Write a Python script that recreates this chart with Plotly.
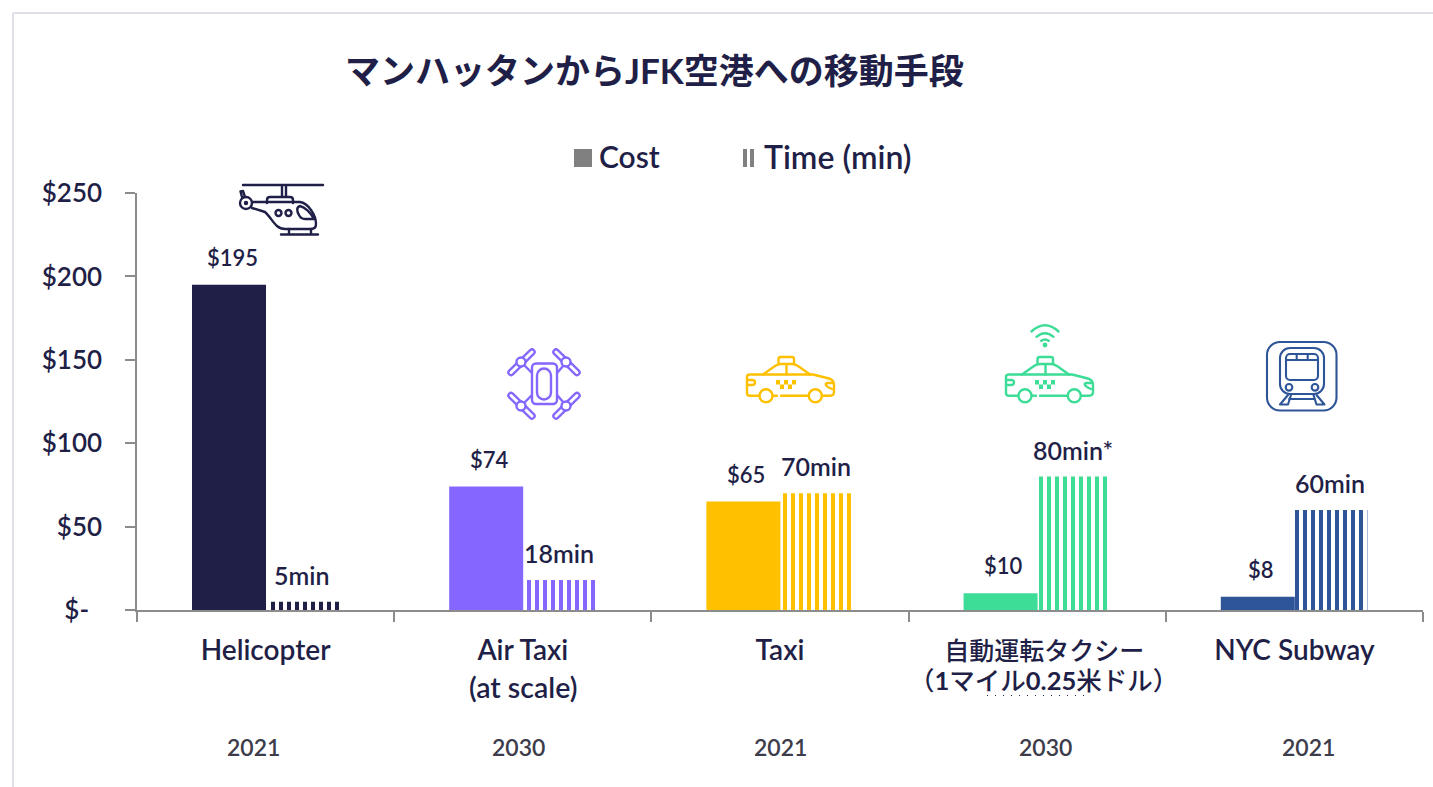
import base64
import plotly.graph_objects as go

categories = ["Helicopter", "Air Taxi", "Taxi", "自動運転タクシー", "NYC Subway"]
cost = [195, 74, 65, 10, 8]
time_min = [5, 18, 70, 80, 60]
cost_labels = ["$195", "$74", "$65", "$10", "$8"]
time_labels = ["5min", "18min", "70min", "80min*", "60min"]
years = ["2021", "2030", "2021", "2030", "2021"]
year_px = [253, 518, 780, 1045, 1308]
colors = ["#1f1f47", "#8566ff", "#ffc000", "#3ddc97", "#2e5597"]
y_ticks = [0, 50, 100, 150, 200, 250]
y_ticktext = ["$-\u00a0\u00a0", "$50", "$100", "$150", "$200", "$250"]
x_ticktext = ["Helicopter", "Air Taxi", "Taxi",
              '\u00a0\u00a0<span style="font-size:25px;font-weight:500">自動運転タクシー</span>',
              "NYC Subway"]
time_nudge_px = [4.4, 3.2, 2, 1, 0]
time_width_px = [70, 70, 70, 70, 73]

NAVY = "#1f1f47"
FONT = "Lato, 'Noto Sans CJK JP', sans-serif"
L, R, T, B = 137, 1423, 193, 610
PHASE = 4  # pixels that line the stripe pattern up with the reference


def px(x):
    return (x - L) / (R - L)


def py(y):
    return (B - y) / (B - T)


def car(c, dx=0):
    checks = "".join(
        f'<rect x="{x + dx}" y="{y}" width="4" height="4.5" fill="{c}" stroke="none"/>'
        for x, y in [(776, 380), (784, 380), (792, 380), (780, 384.5), (788, 384.5)]
    )
    return f'''<g transform="translate({dx},0)">
<path d="M758.5 395.7H750Q747 395.7 747 393V377Q747 374.5 750 374.5H813L829 378.5Q834 380 834 385V392Q834 395.7 830 395.7H823M807.5 395.7H781M773 395.7H777"/>
<path d="M763 374.5L775 366Q778 364 781 364H792Q795 364 798 366L810 374.5M778.5 364V359Q778.5 357 781 357H792Q794 357 794 359V364M786.5 364V374.5"/>
<path d="M747 380H752Q755 380 755 382.5T752 385H747M832 383H828Q825 383 826 385T832 389"/>
<circle cx="766" cy="395.7" r="6.5"/><circle cx="815.3" cy="395.7" r="6.5"/></g>''' + checks


helicopter = f'''<path d="M243 185H323M282 185V197M286 185V197M267 203V200Q267 197 270 197H290Q293 197 293 200V203"/>
<circle cx="246" cy="203" r="6"/><circle cx="246" cy="203" r="1" fill="{NAVY}"/>
<path d="M245 197L243 191L240.5 191.5L242 197M252 202H300C308 203 316 215 316 224Q316 229 311 229H285C275 229 272 218 265 212L252 208"/>
<circle cx="278.5" cy="213" r="3"/><circle cx="288.5" cy="213" r="3"/>
<path d="M300 206C296 207 297 212 299 215Q301 219 305 219H315M300 206C305 207 311 213 314 219"/>
<path d="M281 234.5H318M289 229V234.5M311 229V234.5"/>'''

props = ""
for (x1, y1, x2, y2) in [(511, 372.5, 532, 352), (556, 352, 577, 372.5),
                         (511, 395.5, 532, 416), (556, 416, 577, 395.5)]:
    props += f'<path d="M{x1} {y1}L{x2} {y2}" stroke-width="7.5"/>'
    props += f'<path d="M{x1} {y1}L{x2} {y2}" stroke="#fff" stroke-width="3"/>'
hubs = "".join(
    f'<circle cx="{x}" cy="{y}" r="4.5" fill="#fff"/>' for x, y in [(521, 362), (566, 362), (521, 406), (566, 406)]
)
drone = f'''<path d="M524 365L532 373M564 365L557 373M524 403L532 395M564 403L557 395"/>{props}{hubs}
<rect x="532" y="363.5" width="25" height="40.5" rx="4" fill="#fff"/><rect x="537" y="368.5" width="14" height="31" rx="7"/>'''

wifi = '''<path d="M1031.5 331.5Q1045 319 1058.5 331.5M1036.5 336.8Q1045 329.5 1053.5 336.8M1041.3 340.8Q1045 338 1048.7 340.8"/>
<circle cx="1045" cy="345" r="1.2"/>'''

train = '''<rect x="1267" y="342" width="69.5" height="68.5" rx="13"/>
<rect x="1280" y="348" width="44" height="46" rx="10"/>
<rect x="1286" y="354" width="32" height="26" rx="4"/>
<path d="M1286 360H1318M1296.7 354V360M1307.7 354V360"/>
<circle cx="1289" cy="387.3" r="3.3"/><circle cx="1315" cy="387.3" r="3.3"/>
<path d="M1288 395L1280 404.5H1288L1291 395M1316.5 395L1324.5 404.5H1316.5L1313.5 395M1289 399H1315"/>'''


def icon(body, color, x0, y0, w, h, sw=2.4):
    svg = (f'<svg xmlns="http://www.w3.org/2000/svg" width="{w * 3}" height="{h * 3}" viewBox="{x0} {y0} {w} {h}">'
           f'<g fill="none" stroke="{color}" stroke-width="{sw}" stroke-linecap="round" stroke-linejoin="round">'
           f'{body}</g></svg>')
    uri = "data:image/svg+xml;base64," + base64.b64encode(svg.encode()).decode()
    return dict(source=uri, xref="paper", yref="paper", x=px(x0), y=py(y0), sizex=w / (R - L), sizey=h / (B - T),
                xanchor="left", yanchor="top", sizing="stretch", layer="above")


images = [
    icon(helicopter, NAVY, 235, 180, 95, 60),
    icon(drone, colors[1], 500, 340, 90, 90),
    icon(car(colors[2]), colors[2], 740, 350, 100, 55),
    icon(wifi + car(colors[3], 259), colors[3], 995, 320, 105, 85),
    icon(train, colors[4], 1260, 335, 85, 85, 2.1),
]

CW = (R - L) / len(categories)

fig = go.Figure()
fig.add_bar(name="Cost", x=categories, y=cost, marker_color=colors, marker_line_width=0,
            width=74 / CW, offset=-73.6 / CW, showlegend=False)
fig.add_bar(name="Time (min)", x=categories, y=time_min, xaxis="x2", marker=dict(
    color=colors, line_width=0,
    pattern=dict(shape="|", size=8, solidity=0.5, fillmode="replace")),
    width=[w / CW for w in time_width_px], offset=[n / CW for n in time_nudge_px], showlegend=False)

ann = []


def text(x, y, s, size=24, color=NAVY, weight=600, **kw):
    ann.append(dict(x=x, y=y, text=s, showarrow=False, font=dict(family=FONT, size=size, color=color, weight=weight),
                    xanchor=kw.pop("xanchor", "center"), yanchor="middle", **kw))


for c, v, s in zip(categories, cost, cost_labels):
    text(c, v, s, size=22, xref="x", yref="y", xshift=-33.6, yshift=27.5)
for c, v, s in zip(categories, time_min, time_labels):
    text(c, v, s, size=25, xref="x", yref="y", xshift=36, yshift=27)
for xp, s in zip(year_px, years):
    text(px(xp), py(747), s, size=23, color="#3c3c4a", xref="paper", yref="paper")
text(categories[1], py(687), "(at scale)", size=28.5, xref="x", yref="paper")
text(categories[3], py(680), "（<b>1</b>マイル<b>0.25</b>米ドル）", size=25.5, weight=500, xref="x", yref="paper", xshift=6)
text(px(597), py(156), "Cost", size=30, xanchor="left", xref="paper", yref="paper")
text(px(762), py(156), "Time (min)", size=32, xanchor="left", xref="paper", yref="paper")

GREY = "#808080"
shapes = [
    dict(type="rect", xref="paper", yref="paper", x0=px(574), x1=px(592), y0=py(167), y1=py(149),
         fillcolor=GREY, line_width=0),
    dict(type="rect", xref="paper", yref="paper", x0=px(743), x1=px(747), y0=py(167), y1=py(149),
         fillcolor=GREY, line_width=0),
    dict(type="rect", xref="paper", yref="paper", x0=px(750), x1=px(754), y0=py(167), y1=py(149),
         fillcolor=GREY, line_width=0),
    dict(type="line", xref="paper", yref="paper", x0=px(13), x1=px(1433), y0=py(13), y1=py(13),
         line=dict(color="#dde0e6", width=2)),
    dict(type="line", xref="paper", yref="paper", x0=px(13), x1=px(13), y0=py(13), y1=py(787),
         line=dict(color="#dde0e6", width=2)),
    dict(type="line", xref="paper", yref="paper", x0=px(987), x1=px(1088), y0=py(695.5), y1=py(695.5),
         line=dict(color=NAVY, width=1, dash="1px,7px")),
]

fig.update_layout(
    width=1433, height=787, autosize=False,
    margin=dict(l=L, r=1433 - R, t=T, b=787 - B, pad=0),
    paper_bgcolor="white", plot_bgcolor="rgba(0,0,0,0)",
    barmode="overlay", showlegend=False,
    font=dict(family=FONT, color=NAVY, size=24),
    title=dict(text="<b>マンハッタンからJFK空港への移動手段</b>", x=345 / 1433, xref="container", xanchor="left",
               y=1 - 72 / 787, yref="container", yanchor="middle", font=dict(family=FONT, size=35, color=NAVY)),
    xaxis=dict(type="category", categoryorder="array", categoryarray=categories, tickmode="array",
               tickvals=categories, ticktext=x_ticktext, range=[-0.5, 4.5],
               tickson="boundaries", ticks="outside", ticklen=10, tickwidth=1.5, tickcolor="#8c8c8c",
               showline=True, linecolor="#8c8c8c", linewidth=1.5, showgrid=False, zeroline=False,
               tickfont=dict(family=FONT, size=28, color=NAVY, weight=600), ticklabelstandoff=15, tickangle=0),
    xaxis2=dict(type="category", categoryorder="array", categoryarray=categories, visible=False, anchor="y",
                domain=[PHASE / (R - L), 1], range=[-0.5 + PHASE / CW, 4.5]),
    yaxis=dict(range=[0, 250], tickvals=y_ticks, ticktext=y_ticktext, ticks="outside", ticklen=10, tickwidth=1.5,
               tickcolor="#8c8c8c", showline=True, linecolor="#8c8c8c", linewidth=1.5, showgrid=False, zeroline=False,
               tickfont=dict(family=FONT, size=26, color=NAVY, weight=600), ticklabelstandoff=18),
    annotations=ann, shapes=shapes, images=images,
)

fig.write_html("out.html", config=dict(displayModeBar=False),
               post_script="document.body.style.margin='0';document.documentElement.style.overflow='hidden';")
